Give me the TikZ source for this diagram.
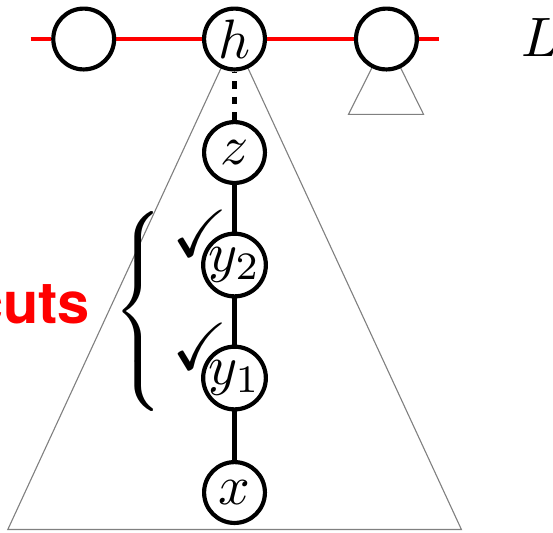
\documentclass[tikz,border=0pt]{standalone}
\usepackage{amssymb}
\usepackage{fontspec}
\newfontfamily\cutfont{TeX Gyre Heros}
\usetikzlibrary{backgrounds}

\tikzset{every picture/.style={line width=0.75pt}}
\tikzset{
  vtx/.style={circle,draw,fill=white,inner sep=0pt,minimum size=10.95pt},
  lvl/.style={red,line width=0.72pt},
  tri/.style={draw=black!50,line width=0.2pt},
  tick/.style={inner sep=0pt},
}
\newcommand{\done}{\scalebox{1.2}{$\checkmark$}}

\begin{document}
\begin{tikzpicture}[x=0.18pt,y=0.18pt,yscale=-1,xscale=1]
        \useasboundingbox (0,0) rectangle (553,532);

        %Shape: top level vertices
        \node (u1) [vtx] at (83.7,39) {};
        \node (h) [vtx] at (234.5,39) {$h$};
        \node (u3) [vtx] at (386.4,39) {};
        %Shape: path down to x
        \node (z) [vtx] at (234.5,152.5) {$z$};
        \node (y2) [vtx] at (234.5,265) {$y_2$};
        \node (y1) [vtx] at (234.5,378) {$y_1$};
        \node (x) [vtx] at (234.5,492.5) {$x$};

        \coordinate (lend) at (30.7,39);
        \coordinate (rend) at (439,39);
        \coordinate (bl) at (7.8,529.5);
        \coordinate (br) at (461.4,529.5);
        \coordinate (sbl) at (348.5,114.3);
        \coordinate (sbr) at (423.5,114.3);

        \begin{scope}[on background layer]
        %Shape: subtrees
        \draw [tri] (h.center) -- (bl) -- (br) -- cycle;
        \draw [tri] (u3.center) -- (sbl) -- (sbr) -- cycle;
        %Shape: level line
        \draw [lvl] (lend) -- (u1) -- (h) -- (u3) -- (rend);
        \end{scope}

        %Shape: edges
        \draw [dash pattern=on 1.4pt off 1.4pt,dash phase=1.07pt] (h) -- (z);
        \draw (z) -- (y2) -- (y1) -- (x);

        % Text Node
        \node (c2) [tick] at ([shift={(-34,-32)}]y2.center) {\done};
        % Text Node
        \node (c1) [tick] at ([shift={(-34,-32)}]y1.center) {\done};
        % Text Node
        \node (brace) [anchor=east,inner sep=0pt] at (172,316) {$\left\{\vrule height 17pt depth 17pt width 0pt\right.$};
        % Text Node
        \node (cuts) [anchor=base east,inner sep=0pt,text=red,font=\fontsize{10.4}{12}\cutfont\bfseries] at (92,323.3) {cuts};
        % Text Node
        \node (lbl) [anchor=base west,inner sep=0pt] at (519,56.7) {$L$};

\end{tikzpicture}
\end{document}
